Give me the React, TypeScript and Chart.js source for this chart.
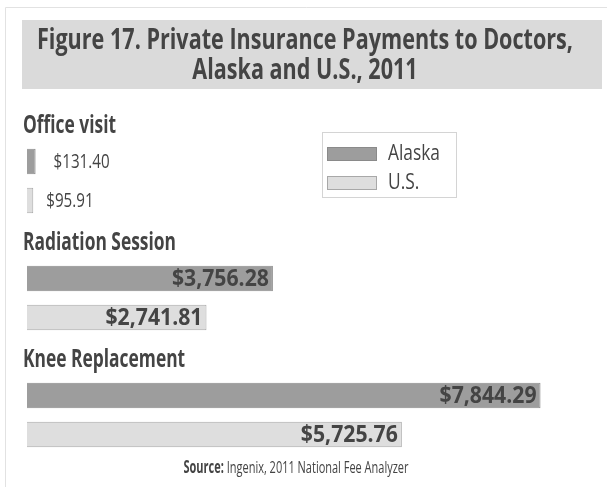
import React, { useEffect, useRef } from "react";
import { Chart, registerables } from "chart.js";

Chart.register(...registerables);

const categories = ["Office visit", "Radiation Session", "Knee Replacement"];
const seriesNames = ["Alaska", "U.S."];
const alaskaValues = [131.4, 3756.28, 7844.29];
const usValues = [95.91, 2741.81, 5725.76];
const valueLabelsAlaska = ["$131.40", "$3,756.28", "$7,844.29"];
const valueLabelsUS = ["$95.91", "$2,741.81", "$5,725.76"];
const titleLines = ["Figure 17. Private Insurance Payments to Doctors,", "Alaska and U.S., 2011"];
const sourceBold = "Source:";
const sourceText = " Ingenix, 2011 National Fee Analyzer";

const FONT = '"Open Sans", "Liberation Sans", sans-serif';
const ALASKA_FILL = "#9d9d9d";
const ALASKA_BORDER = "#8a8a8a";
const US_FILL = "#dedede";
const US_BORDER = "#a8a8a8";
const TEXT = "#444444";

// Build 9 rows: heading, Alaska, U.S. per category
const rowLabels: string[] = [];
const rowKind: string[] = [];
const rowCat: number[] = [];
const alaskaRow: (number | null)[] = [];
const usRow: (number | null)[] = [];
categories.forEach((c, i) => {
  rowLabels.push(c, c + " " + seriesNames[0], c + " " + seriesNames[1]);
  rowKind.push("head", "a", "u");
  rowCat.push(i, i, i);
  alaskaRow.push(null, alaskaValues[i], null);
  usRow.push(null, null, usValues[i]);
});

// condensed text helper: horizontal squeeze of a normal font
function squeeze(ctx: any, font: string, sample: string, targetW: number) {
  ctx.font = font;
  return targetW / ctx.measureText(sample).width;
}
function drawText(ctx: any, text: string, x: number, y: number, font: string, sx: number, align: string) {
  ctx.save();
  ctx.font = font;
  ctx.textAlign = align;
  ctx.translate(x, y);
  ctx.scale(sx, 1);
  ctx.fillText(text, 0, 0);
  ctx.restore();
}
function textW(ctx: any, text: string, font: string, sx: number) {
  ctx.font = font;
  return ctx.measureText(text).width * sx;
}

const decorPlugin = {
  id: "decor",
  beforeDraw(chart: any) {
    const ctx = chart.ctx;
    const W = chart.width;
    const H = chart.height;
    ctx.save();
    ctx.fillStyle = "#ffffff";
    ctx.fillRect(0, 0, W, H);
    ctx.strokeStyle = "#e2e2e2";
    ctx.lineWidth = 1;
    ctx.beginPath();
    ctx.moveTo(5.5, H);
    ctx.lineTo(5.5, 7.5);
    ctx.lineTo(W, 7.5);
    ctx.stroke();
    // title box
    ctx.fillStyle = "#dadada";
    ctx.fillRect(22, 20, 580, 69);
    ctx.fillStyle = TEXT;
    ctx.textBaseline = "alphabetic";
    const tf = `bold 29px ${FONT}`;
    const tsx = squeeze(ctx, tf, titleLines[0], 536);
    drawText(ctx, titleLines[0], 305, 49, tf, tsx, "center");
    drawText(ctx, titleLines[1], 305, 79, tf, tsx, "center");
    // source
    const bf = `bold 17px ${FONT}`;
    const rf = `17px ${FONT}`;
    ctx.font = bf;
    const wb0 = ctx.measureText(sourceBold).width;
    ctx.font = rf;
    const wr0 = ctx.measureText(sourceText).width;
    const ssx = 225 / (wb0 + wr0);
    const sx0 = 296 - 225 / 2;
    drawText(ctx, sourceBold, sx0, 473, bf, ssx, "left");
    drawText(ctx, sourceText, sx0 + wb0 * ssx, 473, rf, ssx, "left");
    ctx.restore();
  },
  afterDatasetsDraw(chart: any) {
    const ctx = chart.ctx;
    const y = chart.scales.y;
    ctx.save();
    ctx.fillStyle = TEXT;
    ctx.textBaseline = "middle";
    // headings
    const hf = `bold 25px ${FONT}`;
    const hsx = squeeze(ctx, hf, categories[1], 153);
    rowKind.forEach((k, i) => {
      if (k !== "head") return;
      drawText(ctx, categories[rowCat[i]], 23, y.getPixelForValue(i) + 3, hf, hsx, "left");
    });
    // value labels
    const vf = `bold 24px ${FONT}`;
    const vsx = squeeze(ctx, vf, valueLabelsAlaska[2], 97);
    const of = `20px ${FONT}`;
    const osx = squeeze(ctx, of, valueLabelsAlaska[0], 56);
    chart.data.datasets.forEach((ds: any, di: number) => {
      const meta = chart.getDatasetMeta(di);
      meta.data.forEach((bar: any, i: number) => {
        const v = ds.data[i];
        if (v == null) return;
        const label = di === 0 ? valueLabelsAlaska[rowCat[i]] : valueLabelsUS[rowCat[i]];
        const barW = bar.x - bar.base;
        const tw = textW(ctx, label, vf, vsx);
        if (barW > tw + 12) {
          drawText(ctx, label, bar.x - 4, bar.y + 1, vf, vsx, "right");
        } else {
          drawText(ctx, label, bar.x + (di === 0 ? 18 : 13), bar.y + 1, of, osx, "left");
        }
      });
    });
    // legend
    ctx.strokeStyle = "#d4d4d4";
    ctx.lineWidth = 1;
    ctx.strokeRect(322.5, 132.5, 134, 65);
    const lf = `21px ${FONT}`;
    const lsx = squeeze(ctx, lf, seriesNames[0], 52);
    chart.data.datasets.forEach((ds: any, i: number) => {
      const top = i === 0 ? 147 : 176;
      ctx.fillStyle = ds.backgroundColor;
      ctx.fillRect(327, top, 50, 14);
      ctx.strokeStyle = ds.borderColor;
      ctx.strokeRect(327.5, top + 0.5, 49, 13);
      ctx.fillStyle = TEXT;
      drawText(ctx, ds.label, 388, top + 7, lf, lsx, "left");
    });
    ctx.restore();
  },
};

export default function App() {
  const ref = useRef<HTMLCanvasElement>(null);
  useEffect(() => {
    if (!ref.current) return;
    const chart = new Chart(ref.current, {
      type: "bar",
      data: {
        labels: rowLabels,
        datasets: [
          {
            label: seriesNames[0],
            data: alaskaRow,
            backgroundColor: ALASKA_FILL,
            borderColor: ALASKA_BORDER,
            borderWidth: 1,
            barPercentage: 0.66,
            categoryPercentage: 1,
          },
          {
            label: seriesNames[1],
            data: usRow,
            backgroundColor: US_FILL,
            borderColor: US_BORDER,
            borderWidth: 1,
            barPercentage: 0.65,
            categoryPercentage: 1,
          },
        ],
      },
      options: {
        indexAxis: "y",
        responsive: false,
        animation: false,
        layout: { padding: { top: 103, bottom: 33, left: 27, right: 17 } },
        plugins: {
          legend: { display: false },
          tooltip: { enabled: false },
          title: { display: false },
        },
        scales: {
          x: { display: false, min: 0, max: 8600, stacked: true },
          y: { display: false, stacked: true },
        },
      },
      plugins: [decorPlugin],
    });
    return () => chart.destroy();
  }, []);
  return (
    <div style={{ position: "absolute", left: 0, top: 0, width: 607, height: 487 }}>
      <canvas ref={ref} width={607} height={487} style={{ width: 607, height: 487, display: "block" }} />
    </div>
  );
}
